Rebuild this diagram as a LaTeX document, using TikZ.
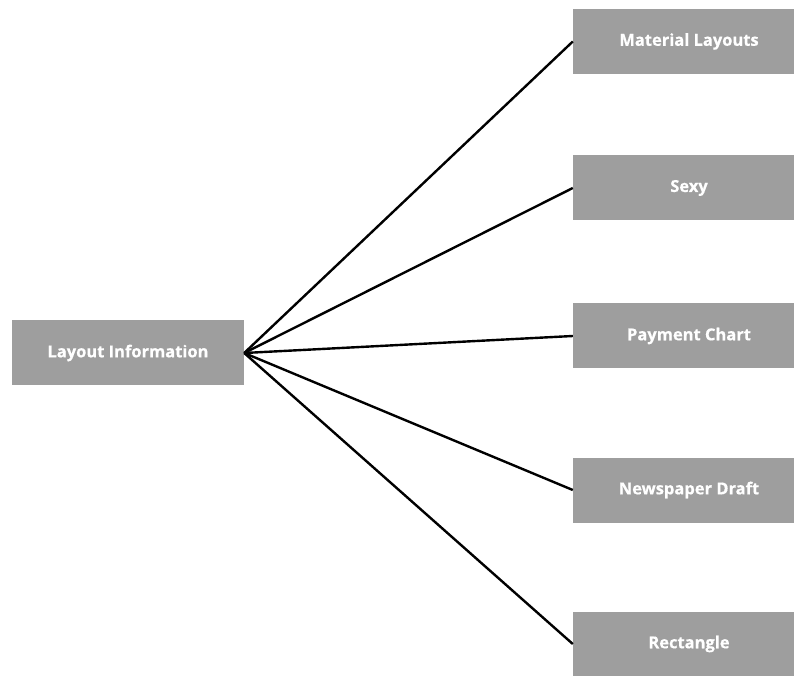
\documentclass[tikz,border=0pt]{standalone}
\usepackage{fontspec}
\setmainfont{Open Sans}[BoldFeatures={FakeBold=0.5}]
\definecolor{boxgray}{HTML}{9E9E9E}
\begin{document}
\begin{tikzpicture}[x=1pt,y=1pt,
  card/.style={fill=boxgray, draw=none, minimum width=232pt, minimum height=65pt,
    inner sep=0pt, text=white, font=\bfseries\fontsize{16.5}{20}\selectfont},
  link/.style={draw=black, line width=2.4pt}]
\useasboundingbox (0,0) rectangle (794,675);
\clip (0,0) rectangle (794,675);
\node[card] (root) at (128,322) {\raisebox{-2.5pt}{Layout Information}};
\node[card] (m) at (689,633.5) {\raisebox{-2.5pt}{Material Layouts}};
\node[card] (s) at (689,487) {\raisebox{-2.5pt}{Sexy}};
\node[card] (p) at (689,339) {\raisebox{-2.5pt}{Payment Chart}};
\node[card] (n) at (689,185) {\raisebox{-2.5pt}{Newspaper Draft}};
\node[card] (r) at (689,31) {\raisebox{-2.5pt}{Rectangle}};
\foreach \t in {m,s,p,n,r}
  \draw[link] (root.east) -- (\t.west);
\end{tikzpicture}
\end{document}
